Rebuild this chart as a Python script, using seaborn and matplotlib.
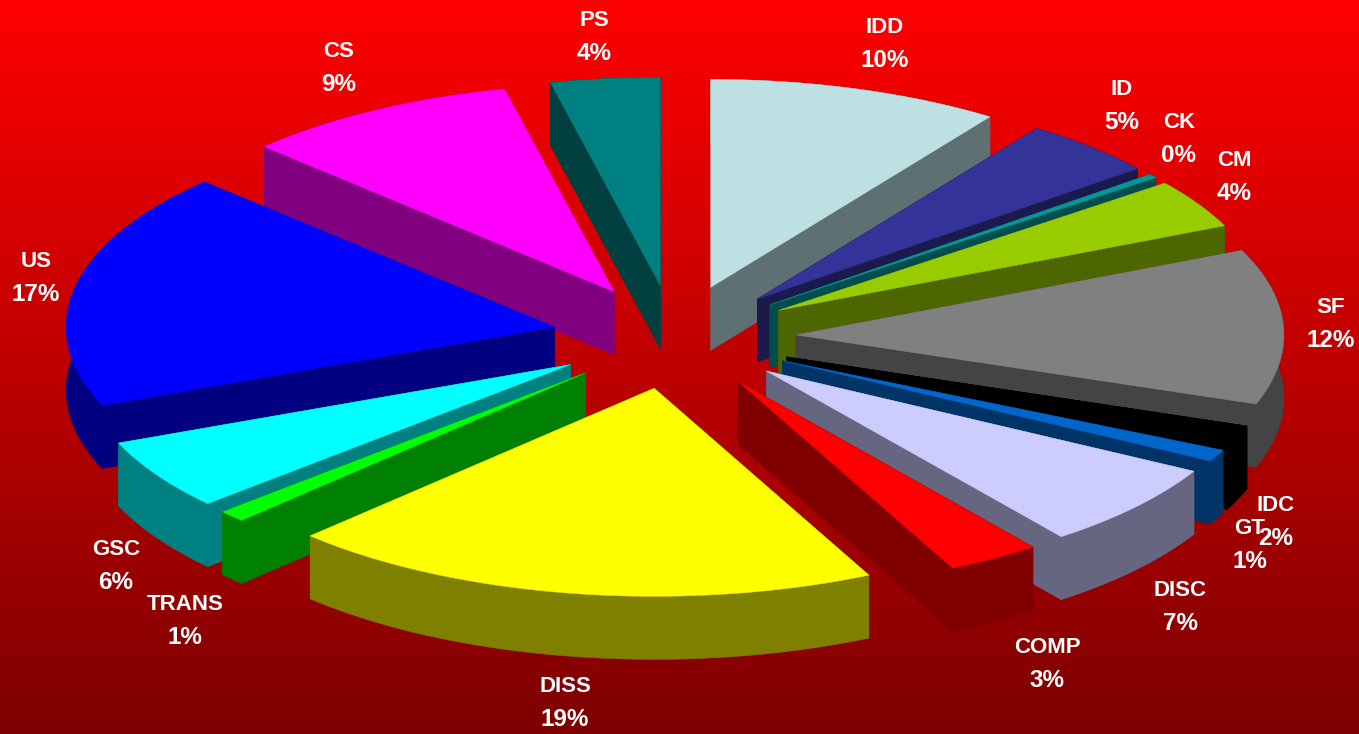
import numpy as np
import pandas as pd
import seaborn as sns
import matplotlib
matplotlib.use("Agg")
import matplotlib.pyplot as plt
from matplotlib.patches import Polygon

# ---- data ----
categories = ["IDD", "ID", "CK", "CM", "SF", "IDC", "GT", "DISC", "COMP", "DISS",
              "TRANS", "GSC", "US", "CS", "PS"]
shares = [9.7, 4.52, 0.31, 3.81, 12.06, 1.69, 0.92, 6.67, 3.08, 19.7, 0.9, 5.5, 18.44, 9.11, 3.61]
percent_labels = ["10%", "5%", "0%", "4%", "12%", "2%", "1%", "7%", "3%", "19%",
                  "1%", "6%", "17%", "9%", "4%"]

# ---- styles and layout ----
slice_colors = ["#BDE0E3", "#333399", "#009999", "#99CC00", "#808080", "#000000", "#0066CC",
                "#CCCCFF", "#FF0000", "#FFFF00", "#00FF00", "#00FFFF", "#0000FF", "#FF00FF",
                "#008080"]
label_centres = [(885, 44), (1122, 106), (1179, 139), (1234, 177), (1331, 324), (1276, 522),
                 (1250, 545), (1180, 607), (1047, 664), (565, 703), (185, 621), (116, 566),
                 (36, 278), (339, 68), (594, 37)]
CX, CY = 674, 337      # pie centre, pixels
RX, RY = 488, 208      # ellipse radii of the tilted disk, pixels
DEPTH = 63             # extrusion height, pixels
EXPLODE = 0.25         # every slice pulled out by this fraction of the radius
LINE_GAP = 16.7        # half the distance between a label's two lines, pixels
W, H = 1359, 734

sns.set_theme(style="white")
plt.rcParams["font.family"] = ["Liberation Sans", "DejaVu Sans"]
palette = sns.color_palette(slice_colors)

df = pd.DataFrame({"category": categories, "share": shares, "label": percent_labels,
                   "color": palette})
df["deg"] = df["share"] / df["share"].sum() * 360
df["end"] = df["deg"].cumsum()
df["start"] = df["end"] - df["deg"]
df["mid"] = np.radians((df["start"] + df["end"]) / 2)
df["apex_x"] = CX + EXPLODE * RX * np.sin(df["mid"])
df["apex_y"] = CY - EXPLODE * RY * np.cos(df["mid"])

fig = plt.figure(figsize=(W / 100, H / 100), dpi=100)
ax = fig.add_axes([0, 0, 1, 1])
ax.set_xlim(0, W)
ax.set_ylim(H, 0)
ax.axis("off")

# vertical red gradient background
gradient = np.zeros((256, 2, 3))
gradient[:, :, 0] = np.linspace(1.0, 0.49, 256)[:, None]
ax.imshow(gradient, extent=(0, W, H, 0), aspect="auto", zorder=0)

z = 1.0
for _, s in df.sort_values("apex_y").iterrows():
    ax0, ay0 = s["apex_x"], s["apex_y"]
    theta = np.radians(np.linspace(s["start"], s["end"], max(int(s["deg"] * 2), 3)))
    ox = ax0 + RX * np.sin(theta)
    oy = ay0 - RY * np.cos(theta)
    top = np.column_stack([np.r_[ax0, ox], np.r_[ay0, oy]])
    side_col = tuple(np.array(s["color"]) * 0.5)
    if s["category"] == "SF":
        side_col = "#444444"

    # the extruded body: both cut faces and the rim share one colour
    rim = np.vstack([np.column_stack([ox, oy]),
                     np.column_stack([ox[::-1], oy[::-1] + DEPTH])])
    cut_a = [(ax0, ay0), (ox[0], oy[0]), (ox[0], oy[0] + DEPTH), (ax0, ay0 + DEPTH)]
    cut_b = [(ax0, ay0), (ox[-1], oy[-1]), (ox[-1], oy[-1] + DEPTH), (ax0, ay0 + DEPTH)]
    for body in (rim, cut_a, cut_b):
        ax.add_patch(Polygon(body, closed=True, facecolor=side_col, edgecolor=side_col,
                             linewidth=0.4, zorder=z))
    z += 0.01
    ax.add_patch(Polygon(top, closed=True, facecolor=s["color"], edgecolor=s["color"],
                         linewidth=0.3, zorder=z))
    z += 0.01

for name, pct, (lx, ly) in zip(categories, percent_labels, label_centres):
    ax.text(lx, ly - LINE_GAP, name, color="white", fontsize=16, fontweight="bold",
            ha="center", va="center", zorder=50)
    ax.text(lx, ly + LINE_GAP, pct, color="white", fontsize=17.5, fontweight="bold",
            ha="center", va="center", zorder=50)

fig.savefig("out.png", dpi=100)
